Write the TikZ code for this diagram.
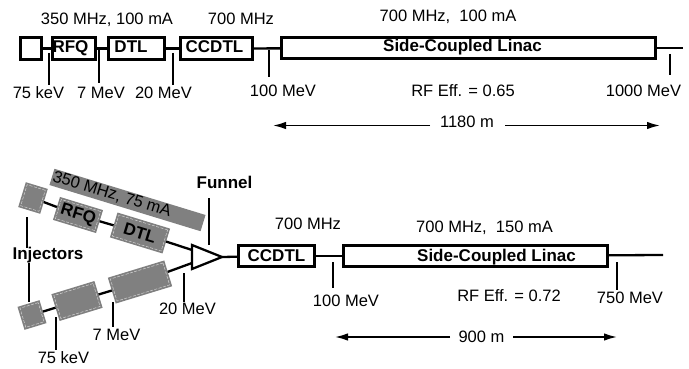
\documentclass[tikz,border=0pt]{standalone}
\usepackage{fontspec}
\setmainfont{Liberation Sans}
\usetikzlibrary{arrows.meta}
\definecolor{boxgray}{HTML}{808080}
\begin{document}
\begin{tikzpicture}[x=1pt,y=-1pt,
  every node/.style={inner sep=0pt, outer sep=0pt, font=\fontsize{16.5}{18}\selectfont},
  txt/.style={anchor=base},
  btxt/.style={anchor=base, font=\fontsize{17}{18}\selectfont\bfseries},
  box/.style={draw, line width=2.7pt, minimum height=22.5pt},
  beam/.style={line width=2.3pt},
  tick/.style={line width=2.3pt},
  dim/.style={line width=1.6pt, -{Latex[length=13pt,width=7.5pt]}},
  gb/.style n args={3}{fill=boxgray, rotate=#1, minimum width=#2pt, minimum height=#3pt,
    font=\fontsize{17}{18}\selectfont\bfseries,
    append after command={node[draw=white!65!boxgray, dash pattern=on 3pt off 1.5pt, line width=0.5pt,
      rotate=#1, minimum width=#2pt-4pt, minimum height=#3pt-4pt] at (\tikzlastnode.center) {}}}
]
\useasboundingbox (0,0) rectangle (689,369);

% ---------- top layout ----------
\node[box, minimum width=21.5pt] (inj) at (31,48.5) {};
\node[box, minimum width=43.5pt] (rfq) at (74,48.5) {};
\node[box, minimum width=56.5pt] (dtl) at (136.5,48.5) {};
\node[box, minimum width=72.5pt] (ccdtl) at (216.5,48.5) {};
\node[box, minimum width=374.5pt, minimum height=21.5pt] (scl) at (468.5,48) {};
\coordinate (end1) at (683,48);
\draw[beam] (inj) -- (rfq);
\draw[beam] (rfq) -- (dtl);
\draw[beam] (dtl) -- (ccdtl);
\draw[beam] (ccdtl) -- (scl);
\draw[beam] (scl) -- (end1);

\node[btxt] (trfq) at (70.5,53) {RFQ};
\node[btxt] (tdtl) at (131,53) {DTL};
\node[btxt] (tccdtl) at (214.5,53) {CCDTL};
\node[btxt] (tscl) at (462.5,52) {Side-Coupled Linac};
\node[txt] (f1) at (107,25) {350 MHz, 100 mA};
\node[txt] (f2) at (241,25) {700 MHz};
\node[txt] (f3) at (448,22) {700 MHz,\ \ 100 mA};
\node[txt] (e1) at (38.5,99) {75 keV};
\node[txt] (e2) at (101,99) {7 MeV};
\node[txt] (e3) at (163.5,99) {20 MeV};
\node[txt] (e4) at (283,97) {100 MeV};
\node[txt] (rf1) at (463,97) {RF Eff. = 0.65};
\node[txt] (e5) at (643.5,97) {1000 MeV};
\node[txt] (l1180) at (467,128) {1180 m};

\draw[tick] (49,53) -- (49,85);
\draw[tick] (99,50) -- (99,83);
\draw[tick] (173,53) -- (173,85);
\draw[tick] (269,50) -- (269,77);
\draw[tick] (670,54) -- (670,75);

\coordinate (a1s) at (430,125.5); \coordinate (a1e) at (273,125.5);
\coordinate (a2s) at (505,125.5); \coordinate (a2e) at (660,125.5);
\draw[dim] (a1s) -- (a1e);
\draw[dim] (a2s) -- (a2e);

% ---------- bottom layout ----------
\node[fill=boxgray, rotate=-17, minimum width=158pt, minimum height=17pt] (bar) at (127.5,200) {};
\node[rotate=-17] (bartxt) at (112,194.5) {350 MHz, 75 mA};

\node[gb={-17}{23}{26}] (ginj1) at (33,198) {};
\node[gb={-17}{45}{24}] (grfq) at (78,215) {RFQ};
\node[gb={-17}{55}{26}] (gdtl) at (140,233) {DTL};
\node[gb={17}{23}{24}] (ginj2) at (32,315) {};
\node[gb={17}{45}{28}] (gb2) at (77,301) {};
\node[gb={17}{59}{27}] (gb3) at (140,282) {};

\coordinate (ftop) at (192,245);
\coordinate (fbot) at (192,269);
\coordinate (ftip) at (222,257);
\coordinate (fin1) at (192,250);
\coordinate (fin2) at (192,263);

\draw[beam] (ginj1) -- (grfq);
\draw[beam] (grfq) -- (gdtl);
\draw[beam] (ginj2) -- (gb2);
\draw[beam] (gb2) -- (gb3);
\draw[beam] (gdtl) -- (fin1);
\draw[beam] (gb3) -- (fin2);
\draw[line width=2.3pt, line join=miter, fill=white] (ftop) -- (ftip) -- (fbot) -- cycle;

\node[box, minimum width=76.5pt, minimum height=21.5pt] (ccdtl2) at (276.5,256) {};
\node[box, minimum width=264.5pt, minimum height=21.5pt] (scl2) at (475.5,256) {};
\coordinate (end2) at (663,255);
\draw[beam] (ftip) -- (ccdtl2);
\draw[beam] (ccdtl2) -- (scl2);
\draw[beam] (scl2) -- (end2);

\node[btxt] (tccdtl2) at (276.5,261) {CCDTL};
\node[btxt] (tscl2) at (496.5,261) {Side-Coupled Linac};
\node[btxt] (tfun) at (224.5,188) {Funnel};
\node[btxt] (tinj) at (48,259) {Injectors};
\node[txt] (g1) at (308,229) {700 MHz};
\node[txt] (g2) at (484.5,232) {700 MHz,\ \ 150 mA};
\node[txt] (h1) at (346,306) {100 MeV};
\node[txt] (rf2) at (509,301) {RF Eff. = 0.72};
\node[txt] (h2) at (630,303) {750 MeV};
\node[txt] (l900) at (481.5,342) {900 m};
\node[txt] (h3) at (187.5,314) {20 MeV};
\node[txt] (h4) at (116.5,340) {7 MeV};
\node[txt] (h5) at (63.5,363) {75 keV};

\draw[tick] (209,198) -- (209,245);
\draw[tick] (184,273) -- (184,302);
\draw[tick] (113,302) -- (113,327);
\draw[tick] (56,317) -- (56,350);
\draw[tick] (333,262) -- (333,288);
\draw[tick] (617,262) -- (617,290);
\draw[tick] (27,217) -- (27,248);
\draw[tick] (29,263) -- (29,302);

\coordinate (b1s) at (450,337); \coordinate (b1e) at (335,337);
\coordinate (b2s) at (513,337); \coordinate (b2e) at (617,337);
\draw[dim] (b1s) -- (b1e);
\draw[dim] (b2s) -- (b2e);
\end{tikzpicture}
\end{document}
